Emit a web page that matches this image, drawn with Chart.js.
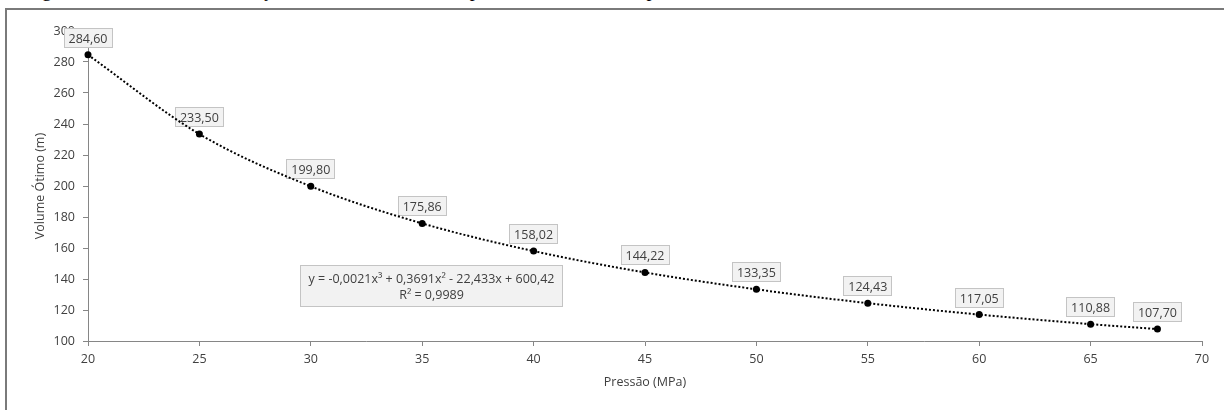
<!DOCTYPE html>
<html>
<head>
<meta charset="utf-8">
<script src="https://cdn.jsdelivr.net/npm/chart.js@4.4.1/dist/chart.umd.min.js"></script>
<style>
html, body { margin: 0; padding: 0; background: #fff; overflow: hidden; }
body { width: 1224px; height: 410px; position: relative; }
#legenda { position: absolute; left: 25px; top: -21px; font-family: "Liberation Serif", serif; font-size: 20px; line-height: 20px; white-space: nowrap; color: #000; }
#moldura { position: absolute; left: 5px; top: 8px; width: 1240px; height: 420px; border: 2px solid #7a7a7a; box-sizing: border-box; }
#grafico { position: absolute; left: 0; top: 0; }
</style>
</head>
<body>
<div id="legenda">Figura 7 – Gráfico com a relação entre volume ótimo e pressão na entrada da planta</div>
<div id="moldura"></div>
<canvas id="grafico" width="1224" height="410"></canvas>
<script>
// pressão (MPa) x volume ótimo (m)
var pressao = [20, 25, 30, 35, 40, 45, 50, 55, 60, 65, 68];
var volume = [284.60, 233.50, 199.80, 175.86, 158.02, 144.22, 133.35, 124.43, 117.05, 110.88, 107.70];
var eixoX = { min: 20, max: 70, passo: 5 };
var eixoY = { min: 100, max: 300, passo: 20 };
var equacao = ["y = -0,0021x³ + 0,3691x² - 22,433x + 600,42", "R² = 0,9989"];

var fonte = '"Open Sans", sans-serif';
var corEixo = "#868686";
var corTexto = "#404040";

function numeroBR(v) {
    return v.toFixed(2).replace(".", ",");
}

// caixas com os valores de cada ponto e a caixa da equação
var rotulos = {
    id: "rotulos",
    beforeDatasetsDraw: function (chart) {
        var ctx = chart.ctx;
        var sx = chart.scales.x, sy = chart.scales.y;
        var area = chart.chartArea;
        ctx.save();
        ctx.font = "12.5px " + fonte;
        ctx.textAlign = "center";
        ctx.textBaseline = "middle";
        ctx.lineWidth = 1;
        volume.forEach(function (v, i) {
            var px = sx.getPixelForValue(pressao[i]);
            var py = sy.getPixelForValue(v);
            var txt = numeroBR(v);
            var w = Math.round(ctx.measureText(txt).width + 10);
            var h = 20;
            var bx = Math.round(px - w / 2);
            var by = Math.round(py - 7 - h);
            ctx.fillStyle = "#f2f2f2";
            ctx.fillRect(bx, by, w, h);
            ctx.strokeStyle = "#c4c4c4";
            ctx.strokeRect(bx + 0.5, by + 0.5, w - 1, h - 1);
            ctx.fillStyle = corTexto;
            ctx.fillText(txt, px, by + h / 2 + 1);
        });

        var ex = area.left + 212, ey = area.top + 234;
        var ew = 263, eh = 42;
        ctx.fillStyle = "#f2f2f2";
        ctx.fillRect(ex, ey, ew, eh);
        ctx.strokeStyle = "#c4c4c4";
        ctx.strokeRect(ex + 0.5, ey + 0.5, ew - 1, eh - 1);
        ctx.fillStyle = corTexto;
        ctx.fillText(equacao[0], ex + ew / 2, ey + 14);
        ctx.fillText(equacao[1], ex + ew / 2, ey + 30);
        ctx.restore();
    }
};

var ctx = document.getElementById("grafico");
var grafico = new Chart(ctx, {
    type: "scatter",
    data: {
        datasets: [
            {
                label: "Volume Ótimo",
                data: pressao.map(function (p, i) { return { x: p, y: volume[i] }; }),
                showLine: true,
                cubicInterpolationMode: "monotone",
                borderColor: "#000",
                borderWidth: 2,
                borderDash: [2, 2],
                pointRadius: 3.5,
                pointBorderWidth: 0,
                pointBackgroundColor: "#000",
                clip: false
            }
        ]
    },
    options: {
        responsive: false,
        animation: false,
        layout: { padding: { top: 31, right: 22, left: 0, bottom: 0 } },
        plugins: {
            legend: { display: false },
            tooltip: { enabled: false }
        },
        scales: {
            x: {
                type: "linear",
                min: eixoX.min,
                max: eixoX.max,
                afterFit: function (scale) { scale.height = 69; },
                ticks: { stepSize: eixoX.passo, color: corTexto, font: { family: fonte, size: 12.5 }, padding: 6 },
                grid: { drawOnChartArea: false, drawTicks: true, tickLength: 5, color: corEixo },
                border: { color: corEixo, width: 1 },
                title: { display: true, text: "Pressão (MPa)", color: corTexto, font: { family: fonte, size: 12.5 }, padding: { top: 0, bottom: 20 } }
            },
            y: {
                min: eixoY.min,
                max: eixoY.max,
                afterFit: function (scale) { scale.width = 88; },
                ticks: { stepSize: eixoY.passo, color: corTexto, font: { family: fonte, size: 12.5 }, padding: 8 },
                grid: { drawOnChartArea: false, drawTicks: true, tickLength: 5, color: corEixo },
                border: { color: corEixo, width: 1 },
                title: { display: true, text: "Volume Ótimo (m)", color: corTexto, font: { family: fonte, size: 12.5 }, padding: { top: 33, bottom: 0 } }
            }
        }
    },
    plugins: [rotulos]
});
</script>
</body>
</html>
